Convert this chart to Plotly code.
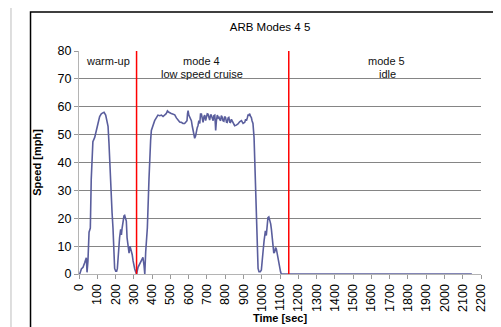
import plotly.graph_objects as go

# ---- data ----
time_sec = [
    4, 13, 22, 31, 40, 44, 49, 55, 62, 67, 72, 76, 86, 95, 104, 113, 122, 130, 137, 146,
    152, 159, 164, 168, 172, 177, 181, 186, 190, 195, 201, 206, 210, 214, 217, 222, 228, 232,
    236, 241, 246, 250, 254, 259, 263, 268, 271, 274, 279, 283, 286, 291, 296, 300, 305, 310,
    315, 323, 332, 341, 350, 356, 360, 365, 374, 383, 387, 392, 396, 405, 414, 423, 432, 442,
    451, 460, 469, 477, 484, 492, 505, 514, 524, 533, 542, 551, 560, 569, 578, 586, 591, 594,
    597, 601, 606, 611, 615, 620, 624, 629, 633, 638, 642, 647, 651, 656, 661, 665, 670, 675,
    679, 684, 688, 693, 697, 702, 706, 711, 715, 720, 724, 729, 734, 738, 743, 746, 748, 752,
    757, 762, 766, 770, 775, 779, 784, 788, 793, 797, 802, 807, 811, 816, 820, 825, 829, 834,
    843, 852, 861, 870, 879, 889, 898, 907, 912, 916, 921, 925, 930, 934, 939, 943, 947, 952,
    958, 962, 965, 969, 973, 977, 980, 985, 992, 998, 1003, 1007, 1013, 1020, 1025, 1030,
    1034, 1039, 1044, 1049, 1053, 1058, 1062, 1066, 1071, 1076, 1080, 1085, 1089, 1094, 1098,
    1103, 1107, 1148, 1300, 1500, 1700, 1900, 2100, 2150,
]
speed_mph = [
    0.0, 1.8, 2.4, 4.0, 5.8, 0.6, 4.7, 15.0, 16.5, 34.0, 43.0, 47.5, 49.0, 52.0, 54.0, 56.5, 57.5, 57.8, 58.0, 57.0,
    55.5, 53.0, 47.0, 40.0, 34.0, 29.5, 22.0, 16.5, 8.0, 2.0, 1.0, 1.0, 2.0, 7.0, 10.6, 13.0, 16.0, 14.0,
    16.5, 20.0, 20.8, 21.0, 20.0, 19.0, 13.0, 9.5, 8.0, 7.5, 10.0, 9.0, 9.2, 7.0, 4.7, 3.0, 1.8, 0.8,
    0.0, 2.4, 3.5, 4.7, 6.0, 3.0, 0.0, 8.0, 16.5, 34.0, 45.0, 48.0, 51.5, 53.5, 55.0, 56.0, 57.0, 56.8,
    57.0, 56.5, 57.1, 57.5, 58.5, 58.0, 57.6, 57.3, 57.1, 56.0, 55.0, 54.5, 54.4, 54.0, 54.0, 54.5, 55.0, 57.5,
    58.6, 57.0, 56.2, 55.5, 55.0, 53.0, 51.5, 50.0, 48.7, 49.5, 51.5, 52.5, 53.2, 55.0, 54.0, 57.4, 57.4, 55.5,
    54.4, 56.5, 57.0, 55.0, 56.2, 57.5, 57.4, 56.0, 55.2, 57.0, 57.0, 56.0, 55.0, 56.8, 57.0, 54.0, 51.5, 55.0,
    57.0, 56.0, 56.2, 55.5, 55.0, 56.8, 56.2, 55.0, 54.8, 56.5, 56.2, 54.5, 54.4, 56.0, 56.2, 54.5, 54.4, 55.5,
    54.0, 53.2, 53.4, 53.8, 54.6, 55.0, 54.0, 54.4, 55.5, 55.0, 56.0, 57.0, 57.0, 57.5, 56.5, 56.2, 55.0, 54.0,
    49.0, 40.0, 33.8, 25.0, 16.0, 8.0, 2.0, 0.8, 0.8, 1.4, 4.0, 7.9, 12.0, 15.5, 13.8, 17.0,
    20.2, 20.5, 19.6, 18.0, 16.0, 12.0, 9.0, 7.5, 7.9, 9.5, 9.0, 7.0, 5.5, 3.5, 2.0,
    0.8, 0.0, 0.0, 0.0, 0.0, 0.0, 0.0, 0.0, 0.0,
]
time_sec = [0] + time_sec
speed_mph = [0.0] + speed_mph

mode_boundaries = [315, 1148]
mode_labels = ["warm-up", "mode 4", "low speed cruise", "mode 5", "idle"]
mode_label_x = [159, 669, 672, 1682, 1687]
mode_label_y = [76.4, 76.4, 71.9, 76.4, 71.9]

x_ticks = list(range(0, 2201, 100))
y_ticks = list(range(0, 81, 10))

FONT = "Liberation Sans, Arial, sans-serif"

fig = go.Figure()

fig.add_trace(go.Scatter(
    x=time_sec, y=speed_mph, mode="lines",
    line=dict(color="#5a5e9d", width=1.6),
    hoverinfo="skip", showlegend=False,
))

for b in mode_boundaries:
    fig.add_trace(go.Scatter(
        x=[b, b], y=[0, 80], mode="lines",
        line=dict(color="#ff0000", width=1.5),
        hoverinfo="skip", showlegend=False,
    ))

for txt, xx, yy in zip(mode_labels, mode_label_x, mode_label_y):
    fig.add_annotation(
        x=xx, y=yy, xref="x", yref="y", text=txt, showarrow=False,
        font=dict(family=FONT, size=11, color="#111"),
        xanchor="center", yanchor="middle",
    )

# outer chart frame
fig.add_shape(type="rect", xref="paper", yref="paper",
              x0=-0.1206, x1=1.0647, y0=-0.30, y1=1.1748,
              line=dict(color="#000", width=1.5), layer="below")
fig.add_shape(type="line", xref="paper", yref="paper",
              x0=-0.1692, x1=-0.1692, y0=-0.30, y1=1.22,
              line=dict(color="#c8c8c8", width=1.2), layer="below")

fig.update_layout(
    width=501, height=327,
    margin=dict(l=71, r=28, t=43, b=58),
    paper_bgcolor="white", plot_bgcolor="white",
    font=dict(family=FONT, size=12, color="#000"),
    title=dict(text="ARB Modes 4 5", x=0.523, xanchor="center",
               y=0.942, yanchor="middle", font=dict(size=11.5, family=FONT)),
    xaxis=dict(
        range=[0, 2200], tickvals=x_ticks, ticktext=[str(v) for v in x_ticks],
        tickangle=-90, showgrid=False, zeroline=False,
        showline=True, linecolor="#b4b4b4", linewidth=1.2,
        ticks="outside", ticklen=4, tickcolor="#9a9a9a",
        tickfont=dict(size=12.5, family=FONT),
        title=dict(text="<b>Time [sec]</b>", font=dict(size=11, family=FONT), standoff=3),
        fixedrange=True,
    ),
    yaxis=dict(
        range=[0, 80], tickvals=y_ticks, showgrid=True, gridcolor="#858585", gridwidth=1,
        zeroline=False, showline=True, linecolor="#b4b4b4", linewidth=1,
        ticks="outside", ticklen=4, tickcolor="#9a9a9a",
        tickfont=dict(size=12.5, family=FONT),
        title=dict(text="<b>Speed [mph]</b>", font=dict(size=11, family=FONT), standoff=13),
        fixedrange=True,
    ),
)

fig.write_html("out.html")
